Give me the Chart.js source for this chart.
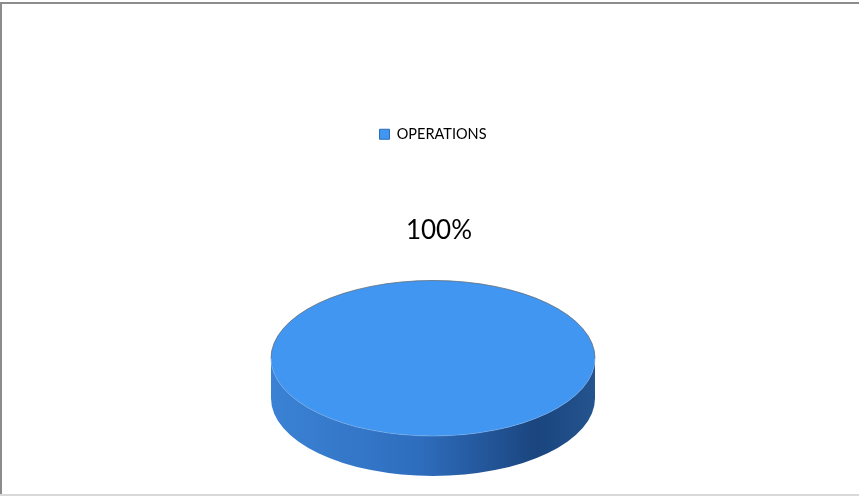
<!DOCTYPE html>
<html>
<head>
<meta charset="utf-8">
<script src="https://cdn.jsdelivr.net/npm/chart.js@4/dist/chart.umd.min.js"></script>
<style>
  html, body { margin: 0; padding: 0; background: #fff; }
  #wrap { position: relative; width: 859px; height: 497px; }
</style>
</head>
<body>
<div id="wrap"><canvas id="pieChart" width="859" height="497"></canvas></div>
<script>
// Répartition par service
const labels = ['OPERATIONS'];
const shares = [100];
const sliceColors = ['#4096f0'];
const sliceEdges = ['#2d6cb8'];

// Camembert "3D" : on écrase le disque et on ajoute une tranche
const tilt = 0.48;
const depth = 40;

function pieView(chart) {
  const arc = chart.getDatasetMeta(0).data[0];
  const r = arc.outerRadius;
  const cy = chart.chartArea.bottom - depth - r * tilt;
  return { arc, r, cx: arc.x, cy };
}

const framePlugin = {
  id: 'frame',
  beforeDraw(chart) {
    const ctx = chart.ctx;
    ctx.save();
    ctx.fillStyle = '#fff';
    ctx.fillRect(0, 0, chart.width, chart.height);
    ctx.fillStyle = '#8c8c8c';
    ctx.fillRect(0, 2, chart.width, 2);
    ctx.fillRect(0, 2, 2, chart.height - 4);
    ctx.fillStyle = '#d9d9d9';
    ctx.fillRect(0, chart.height - 3, chart.width, 2);
    ctx.restore();
  }
};

const pie3d = {
  id: 'pie3d',
  beforeDatasetsDraw(chart) {
    const ctx = chart.ctx;
    const { arc, r, cx, cy } = pieView(chart);
    // tranche avant
    ctx.save();
    ctx.translate(cx, cy);
    ctx.scale(1, tilt);
    const d = depth / tilt;
    const g = ctx.createLinearGradient(-r, 0, r, 0);
    g.addColorStop(0, '#3b82d4');
    g.addColorStop(0.45, '#2f6ebf');
    g.addColorStop(0.82, '#1a457e');
    g.addColorStop(1, '#24548f');
    ctx.beginPath();
    ctx.moveTo(r, 0);
    ctx.arc(0, 0, r, 0, Math.PI, false);
    ctx.lineTo(-r, d);
    ctx.arc(0, d, r, Math.PI, 0, true);
    ctx.closePath();
    ctx.fillStyle = g;
    ctx.fill();
    ctx.restore();

    // dessus du disque
    ctx.save();
    ctx.translate(cx, cy);
    ctx.scale(1, tilt);
    ctx.translate(-arc.x, -arc.y);
  },
  afterDatasetsDraw(chart) {
    const ctx = chart.ctx;
    ctx.restore();
    const { r, cx, cy } = pieView(chart);
    ctx.save();
    ctx.beginPath();
    ctx.ellipse(cx, cy, r, r * tilt, 0, Math.PI, Math.PI * 2);
    ctx.strokeStyle = 'rgba(95,105,118,0.75)';
    ctx.lineWidth = 1;
    ctx.stroke();
    ctx.beginPath();
    ctx.ellipse(cx, cy, r, r * tilt, 0, 0, Math.PI);
    ctx.strokeStyle = 'rgba(120,170,230,0.6)';
    ctx.stroke();
    ctx.restore();

    // étiquette de pourcentage
    const total = shares.reduce((a, b) => a + b, 0);
    ctx.save();
    ctx.font = '26px Lato';
    ctx.fillStyle = '#000';
    ctx.textAlign = 'center';
    ctx.textBaseline = 'middle';
    ctx.fillText(Math.round(shares[0] / total * 100) + '%', cx + 6, cy - r * tilt - 50);
    ctx.restore();
  }
};

new Chart(document.getElementById('pieChart'), {
  type: 'pie',
  data: {
    labels: labels,
    datasets: [{
      data: shares,
      backgroundColor: sliceColors,
      borderColor: sliceEdges,
      borderWidth: 0
    }]
  },
  options: {
    responsive: false,
    animation: false,
    layout: { padding: { top: 117, left: 271, right: 264, bottom: 21 } },
    plugins: {
      legend: {
        position: 'top',
        labels: {
          boxWidth: 10,
          boxHeight: 10,
          padding: 10,
          color: '#000',
          font: { family: 'Lato', size: 14.5 },
          generateLabels(chart) {
            const items = Chart.overrides.pie.plugins.legend.labels.generateLabels(chart);
            items.forEach((it, i) => { it.lineWidth = 1; it.strokeStyle = sliceEdges[i]; });
            return items;
          }
        }
      },
      tooltip: { enabled: false }
    }
  },
  plugins: [framePlugin, pie3d]
});
</script>
</body>
</html>
